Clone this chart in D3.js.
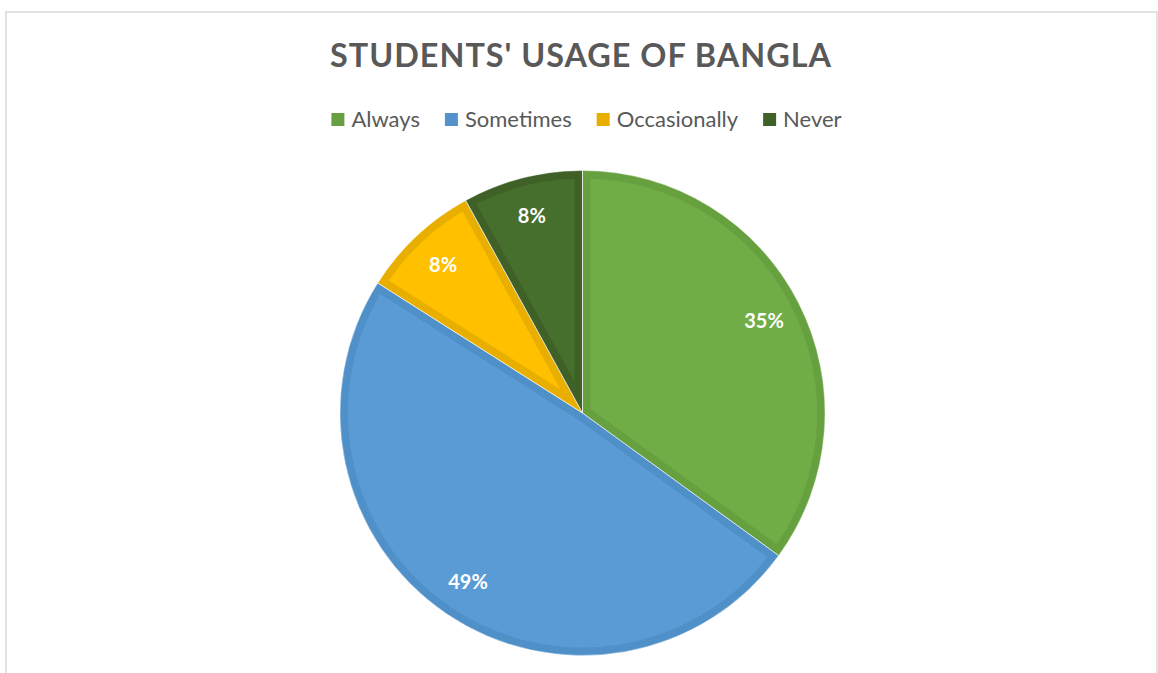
<!DOCTYPE html>
<html><head><meta charset="utf-8">
<script src="https://cdn.jsdelivr.net/npm/d3@7"></script>
<style>html,body{margin:0;padding:0;background:#fff;}svg{display:block;}</style>
</head><body>
<svg id="c" width="1158" height="673"></svg>
<script>
const categories = ["Always", "Sometimes", "Occasionally", "Never"];
const values = [35, 49, 8, 8];
const fillColors = ["#70AD47", "#5B9BD5", "#FFC000", "#466E2C"];
const edgeColors = ["#66A03F", "#5090C9", "#E8AF00", "#3F6127"];
const legendColors = ["#67A042", "#5591CA", "#E9AF00", "#3E6228"];
const title = "STUDENTS' USAGE OF BANGLA";

const W = 1158, H = 673;
const svg = d3.select("#c");
svg.append("rect").attr("x", 6).attr("y", 12).attr("width", W - 7).attr("height", H).attr("fill", "#fff").attr("stroke", "#d9d9d9").attr("stroke-width", 1.5);

// title
const t = svg.append("text").attr("x", 581).attr("y", 67).attr("text-anchor", "middle")
  .attr("font-family", "Lato, 'Open Sans', sans-serif").attr("font-weight", "bold")
  .attr("font-size", 30).attr("fill", "#595959").attr("letter-spacing", 1).text(title);
const tw = t.node().getComputedTextLength();
t.attr("font-size", 30 * 504 / tw);

// legend
const lg = svg.append("g");
const fs = 22;
let x = 0;
categories.forEach((c, i) => {
  const g = lg.append("g");
  g.append("rect").attr("x", x).attr("y", -6).attr("width", 13).attr("height", 13).attr("fill", legendColors[i]);
  const tx = g.append("text").attr("x", x + 20).attr("y", 8).attr("font-family", "Lato, 'Open Sans', sans-serif")
    .attr("font-size", fs).attr("fill", "#595959").text(c);
  x += 20 + tx.node().getComputedTextLength() + 25;
});
const totalW = x - 25;
lg.attr("transform", `translate(${586.5 - totalW / 2},119)`);

// pie
const cx = 582.5, cy = 413, R = 242.5;
const pie = d3.pie().sort(null).value(d => d)(values);
const arc = d3.arc().innerRadius(0).outerRadius(R);
const labelArc = d3.arc().innerRadius(R * 0.84).outerRadius(R * 0.84);
const pg = svg.append("g").attr("transform", `translate(${cx},${cy})`);
const defs = svg.append("defs");
pie.forEach((p, i) => {
  defs.append("clipPath").attr("id", "cp" + i).append("path").attr("d", arc(p));
  pg.append("path").attr("d", arc(p)).attr("fill", fillColors[i])
    .attr("stroke", edgeColors[i]).attr("stroke-width", 16).attr("stroke-linejoin", "miter")
    .attr("clip-path", `url(#cp${i})`);
});
pie.forEach((p, i) => {
  pg.append("path").attr("d", arc(p)).attr("fill", "none").attr("stroke", "#fff").attr("stroke-width", 0.6).attr("stroke-opacity", 0.8);
});
pie.forEach((p, i) => {
  const [lx, ly] = labelArc.centroid(p);
  pg.append("text").attr("x", lx).attr("y", ly).attr("dy", "0.36em").attr("text-anchor", "middle")
    .attr("font-family", "Lato, 'Open Sans', sans-serif").attr("font-weight", "bold").attr("font-size", 20)
    .attr("fill", "#fff").text(d3.format(".0%")(p.value / d3.sum(values)));
});
</script>
</body></html>
